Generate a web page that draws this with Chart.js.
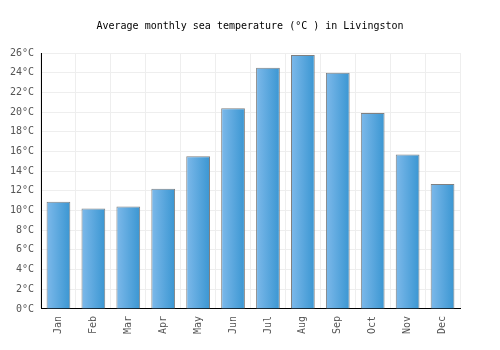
<!DOCTYPE html>
<html>
<head>
<meta charset="utf-8">
<script src="https://cdn.jsdelivr.net/npm/chart.js@4"></script>
<style>
  body { margin: 0; background: #fff; }
</style>
</head>
<body>
<canvas id="myChart" width="500" height="350"></canvas>
<script>
const months = ['Jan', 'Feb', 'Mar', 'Apr', 'May', 'Jun', 'Jul', 'Aug', 'Sep', 'Oct', 'Nov', 'Dec'];
const seaTemp = [10.9, 10.2, 10.4, 12.2, 15.5, 20.4, 24.5, 25.8, 24.0, 19.9, 15.7, 12.7];
const yTicks = [0, 2, 4, 6, 8, 10, 12, 14, 16, 18, 20, 22, 24, 26];

const barPct = 0.68;
const fontName = "'DejaVu Sans Mono', monospace";

// gradient for each bar, left light -> right darker
function barFill(c) {
	const chart = c.chart;
	const xs = chart.scales.x;
	if (!xs || !chart.chartArea) return '#5aa8e0';
	const cx = xs.getPixelForValue(c.dataIndex);
	const w = xs.width / months.length * barPct;
	const g = chart.ctx.createLinearGradient(cx - w / 2, 0, cx + w / 2, 0);
	g.addColorStop(0, '#7db9ea');
	g.addColorStop(1, '#3a96d2');
	return g;
}

const ctx = document.getElementById('myChart');

new Chart(ctx, {
	type: 'bar',
	data: {
		labels: months,
		datasets: [{
			label: 'Sea temperature',
			data: seaTemp,
			backgroundColor: barFill,
			borderColor: '#808080',
			borderWidth: 1,
			barPercentage: barPct,
			categoryPercentage: 1
		}]
	},
	options: {
		responsive: false,
		animation: false,
		layout: { padding: { left: 0, right: 0, top: 0, bottom: 9 } },
		plugins: {
			legend: { display: false },
			tooltip: { enabled: false },
			title: {
				display: true,
				text: 'Average monthly sea temperature (°C ) in Livingston',
				color: '#000',
				font: { family: fontName, size: 10, weight: 'normal' },
				padding: { top: 20, bottom: 21 }
			}
		},
		scales: {
			x: {
				grid: { color: '#eeeeee', drawTicks: false, offset: true },
				border: { color: '#000', width: 1 },
				ticks: {
					color: '#555',
					font: { family: fontName, size: 10 },
					maxRotation: 90,
					minRotation: 90,
					padding: 7
				}
			},
			y: {
				min: 0,
				max: 26,
				afterBuildTicks: (axis) => { axis.ticks = yTicks.map(v => ({ value: v })); },
				grid: { color: '#eeeeee', drawTicks: false },
				border: { color: '#000', width: 1 },
				ticks: {
					color: '#555',
					font: { family: fontName, size: 10 },
					padding: 7,
					callback: (v) => v + '°C'
				},
				afterFit: (axis) => { axis.width = 41; }
			},
			// empty axis only to keep space on the right side
			yRight: {
				position: 'right',
				display: true,
				grid: { display: false },
				border: { display: false },
				ticks: { display: false },
				afterFit: (axis) => { axis.width = 40; }
			}
		}
	}
});
</script>
</body>
</html>
